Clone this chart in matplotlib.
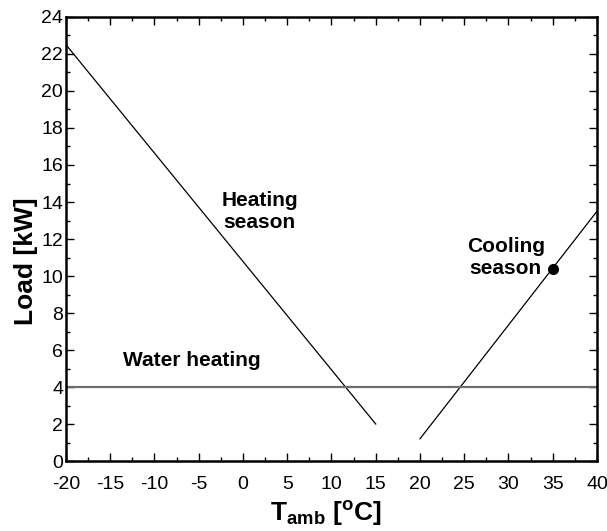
import matplotlib
matplotlib.use('Agg')
import matplotlib.pyplot as plt
from matplotlib.ticker import MultipleLocator

plt.rcParams['font.family'] = ['Liberation Sans', 'DejaVu Sans']
plt.rcParams['mathtext.fontset'] = 'custom'
plt.rcParams['mathtext.rm'] = 'Liberation Sans:bold'
plt.rcParams['mathtext.bf'] = 'Liberation Sans:bold'
plt.rcParams['mathtext.default'] = 'bf'
plt.rcParams['axes.unicode_minus'] = False

# load lines (ambient temperature in C, load in kW)
heating_t = [-20, 15]
heating_load = [22.5, 2.0]
cooling_t = [20, 40]
cooling_load = [1.2, 13.5]
water_t = [-20, 40]
water_load = [4, 4]
design_t = [35]
design_load = [10.4]

fig = plt.figure(figsize=(6.07, 5.31), dpi=100)
ax = fig.add_axes([0.1087, 0.1318, 0.8748, 0.8362])

ax.plot(heating_t, heating_load, color='black', lw=0.9)
ax.plot(cooling_t, cooling_load, color='black', lw=0.9)
ax.plot(water_t, water_load, color='#6e6e6e', lw=1.6)
ax.plot(design_t, design_load, 'o', color='black', ms=7)

ax.text(1.9, 13.5, 'Heating\nseason', ha='center', va='center',
        fontsize=15, fontweight='bold', linespacing=1.2)
ax.text(29.7, 11.0, 'Cooling\nseason', ha='center', va='center',
        fontsize=15, fontweight='bold', linespacing=1.2)
ax.text(-5.8, 5.45, 'Water heating', ha='center', va='center',
        fontsize=15, fontweight='bold')

ax.set_xlim(-20, 40)
ax.set_ylim(0, 24)
ax.xaxis.set_major_locator(MultipleLocator(5))
ax.xaxis.set_minor_locator(MultipleLocator(2.5))
ax.yaxis.set_major_locator(MultipleLocator(2))
ax.yaxis.set_minor_locator(MultipleLocator(1))
ax.tick_params(which='both', direction='in', top=True, right=True,
               labelsize=14, width=1)
ax.tick_params(axis='x', which='major', pad=11)
ax.tick_params(axis='y', which='major', pad=2)
ax.tick_params(which='major', length=6)
ax.tick_params(which='minor', length=3)
for s in ax.spines.values():
    s.set_linewidth(1.8)

ax.set_xlabel('T$_{amb}$ [$^{o}$C]', fontsize=19, fontweight='bold')
ax.set_ylabel('Load [kW]', fontsize=19, fontweight='bold')
ax.xaxis.set_label_coords(0.49, -0.085)
ax.yaxis.set_label_coords(-0.052, 0.45)

fig.savefig('out.png', dpi=100)
